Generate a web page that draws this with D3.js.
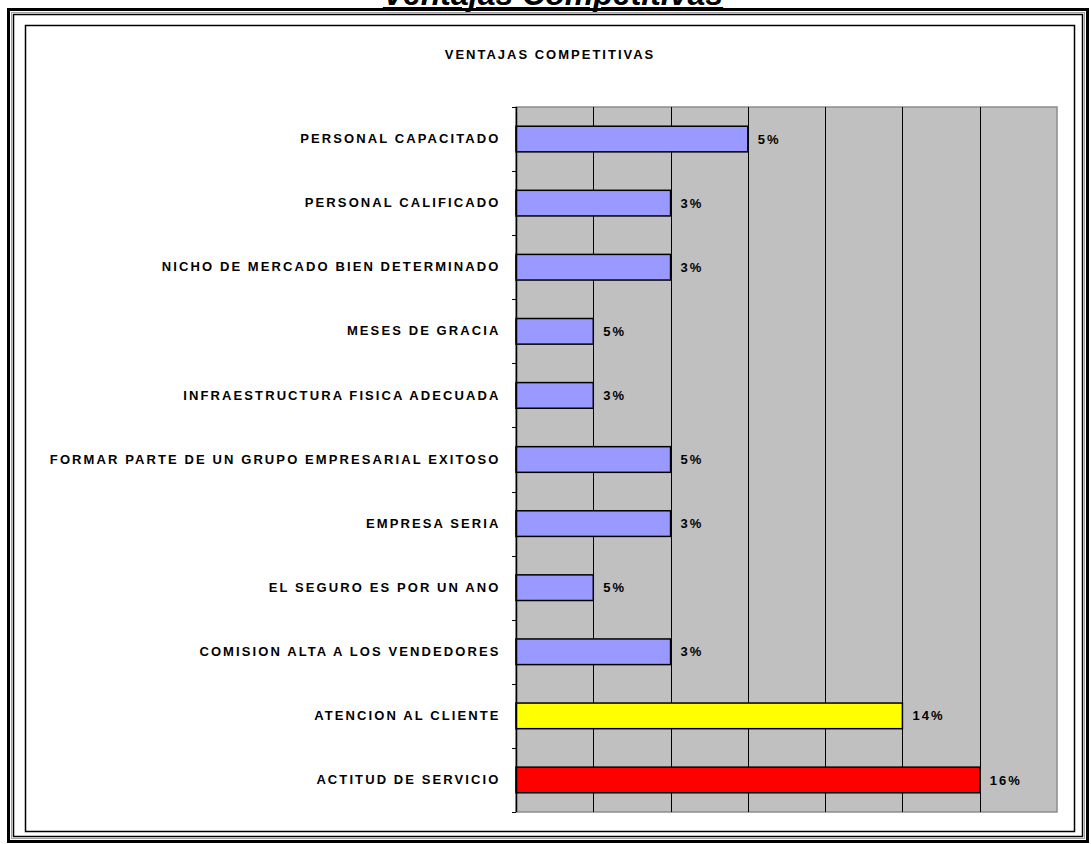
<!DOCTYPE html>
<html>
<head>
<meta charset="utf-8">
<script src="https://cdn.jsdelivr.net/npm/d3@7/dist/d3.min.js"></script>
<style>
  html, body { margin: 0; padding: 0; background: #fff; }
  svg { display: block; font-family: "Liberation Sans", Arial, sans-serif; }
</style>
</head>
<body>
<svg id="chart" width="1091" height="844"></svg>
<script>
const categories = [
  "PERSONAL CAPACITADO",
  "PERSONAL CALIFICADO",
  "NICHO DE MERCADO BIEN DETERMINADO",
  "MESES DE GRACIA",
  "INFRAESTRUCTURA FISICA ADECUADA",
  "FORMAR PARTE DE UN GRUPO EMPRESARIAL EXITOSO",
  "EMPRESA SERIA ",
  "EL SEGURO ES POR UN ANO",
  "COMISION ALTA A LOS VENDEDORES",
  "ATENCION AL CLIENTE",
  "ACTITUD DE SERVICIO"
];
const values = [3, 2, 2, 1, 1, 2, 2, 1, 2, 5, 6];
const valueLabels = ["5%", "3%", "3%", "5%", "3%", "5%", "3%", "5%", "3%", "14%", "16%"];
const barColors = ["#9999FF", "#9999FF", "#9999FF", "#9999FF", "#9999FF", "#9999FF", "#9999FF", "#9999FF", "#9999FF", "#FFFF00", "#FF0000"];
const xTicks = [0, 1, 2, 3, 4, 5, 6, 7];

const svg = d3.select("#chart");

// outer frame
svg.append("rect").attr("x", 8.5).attr("y", 9.5).attr("width", 1079).attr("height", 832)
  .attr("fill", "none").attr("stroke", "#000").attr("stroke-width", 3);
svg.append("rect").attr("x", 11.5).attr("y", 12.5).attr("width", 1073).attr("height", 826)
  .attr("fill", "none").attr("stroke", "#a0a0a0").attr("stroke-width", 1);
svg.append("rect").attr("x", 13.5).attr("y", 14.5).attr("width", 1069).attr("height", 822)
  .attr("fill", "none").attr("stroke", "#000").attr("stroke-width", 1.5);
// inner chart area border
svg.append("rect").attr("x", 25.5).attr("y", 25.5).attr("width", 1049).attr("height", 806)
  .attr("fill", "#fff").attr("stroke", "#000").attr("stroke-width", 1.5);

// top title (cut off at page top, as in the reference)
svg.append("text").attr("x", 553).attr("y", 5)
  .attr("text-anchor", "middle")
  .attr("font-size", 32).attr("font-weight", "bold").attr("font-style", "italic")
  .attr("text-decoration", "underline")
  .text("Ventajas Competitivas");

// chart title
svg.append("text").attr("x", 550).attr("y", 59)
  .attr("text-anchor", "middle")
  .attr("font-size", 13).attr("font-weight", "bold").attr("letter-spacing", "2px")
  .text("VENTAJAS COMPETITIVAS");

const pLeft = 516, pRight = 1057, pTop = 107, pBottom = 812;
const x = d3.scaleLinear().domain([0, 7]).range([pLeft, pRight]);
const y = d3.scaleBand().domain(categories).range([pTop, pBottom]).paddingInner(0.6).paddingOuter(0.3);
const yb = d3.scaleBand().domain(categories).range([pTop, pBottom]);

// plot area
svg.append("rect").attr("x", pLeft).attr("y", pTop).attr("width", pRight - pLeft).attr("height", pBottom - pTop)
  .attr("fill", "#C0C0C0").attr("stroke", "#8c8c8c").attr("stroke-width", 1.5);

// gridlines
svg.append("g").selectAll("line").data(xTicks.slice(1, -1)).join("line")
  .attr("x1", d => Math.round(x(d)) + 0.5).attr("x2", d => Math.round(x(d)) + 0.5)
  .attr("y1", pTop).attr("y2", pBottom)
  .attr("stroke", "#000").attr("stroke-width", 1);

// bars
svg.append("g").selectAll("rect").data(categories).join("rect")
  .attr("x", x(0))
  .attr("y", (d) => y(d))
  .attr("width", (d, i) => x(values[i]) - x(0))
  .attr("height", y.bandwidth())
  .attr("fill", (d, i) => barColors[i])
  .attr("stroke", "#000").attr("stroke-width", 1.5);

// value labels
svg.append("g").selectAll("text").data(categories).join("text")
  .attr("x", (d, i) => x(values[i]) + 10)
  .attr("y", d => y(d) + y.bandwidth() / 2)
  .attr("dy", "0.35em")
  .attr("font-size", 13).attr("font-weight", "bold").attr("letter-spacing", "2px")
  .text((d, i) => valueLabels[i]);

// y axis
const yAxis = d3.axisLeft(yb).tickSize(0).tickPadding(16);
const ga = svg.append("g").attr("transform", `translate(${pLeft + 0.5},0)`).call(yAxis);
ga.select(".domain").attr("stroke", "#000").attr("stroke-width", 1.5).attr("d", `M0,${pTop}V${pBottom}`);
ga.selectAll("text").attr("font-size", 13).attr("font-weight", "bold")
  .attr("letter-spacing", "2.1px").attr("fill", "#000")
  .attr("font-family", "'Liberation Sans', Arial, sans-serif");
// boundary ticks
const bounds = categories.map(c => yb(c)).concat([pBottom]);
svg.append("g").selectAll("line").data(bounds).join("line")
  .attr("x1", pLeft - 4).attr("x2", pLeft)
  .attr("y1", d => Math.round(d) + 0.5).attr("y2", d => Math.round(d) + 0.5)
  .attr("stroke", "#000").attr("stroke-width", 1);
</script>
</body>
</html>
